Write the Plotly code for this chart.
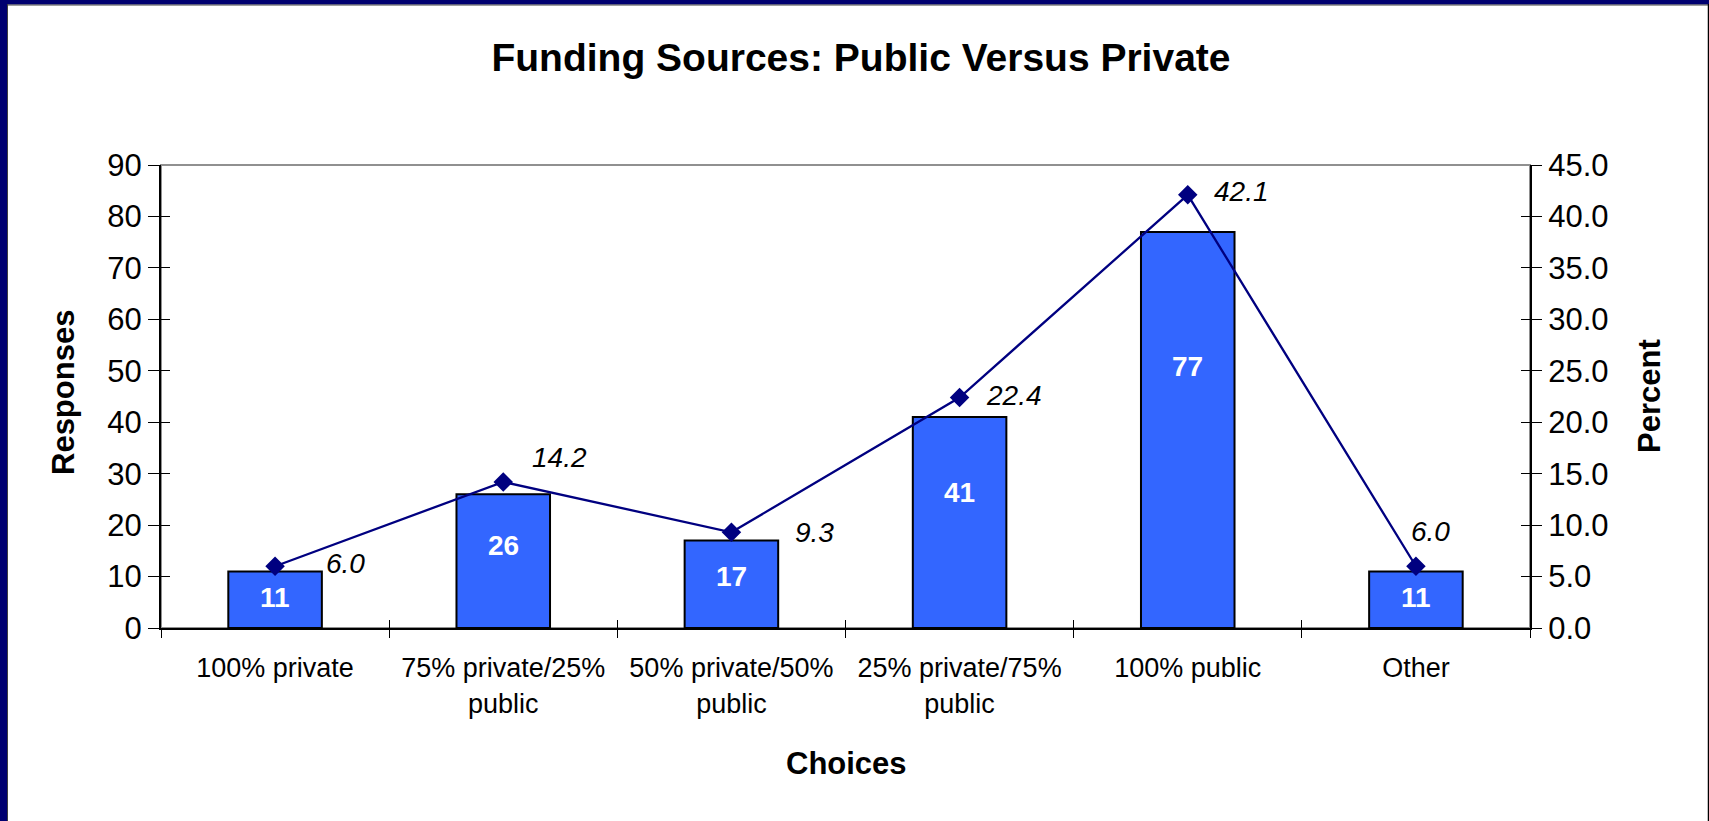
import plotly.graph_objects as go

# Survey data: funding preference choices
categories = [
    "100% private",
    "75% private/25%<br>public",
    "50% private/50%<br>public",
    "25% private/75%<br>public",
    "100% public",
    "Other",
]
responses = [11, 26, 17, 41, 77, 11]
percent = [6.0, 14.2, 9.3, 22.4, 42.1, 6.0]

# Label offsets (pixels) for the percent labels next to each marker
pct_xshift = [49, 27, 62, 24, 24, -7]
pct_yshift = [3, 24, 0, 2, 3, 35]

W, H = 1709, 821
ML, MR, MT, MB = 161, 179, 165, 193
PW, PH = W - ML - MR, H - MT - MB

FONT = "Liberation Sans, Arial, sans-serif"
BAR_COLOR = "#3366FF"
LINE_COLOR = "#000080"
FRAME_COLOR = "#000070"


def px_x(p):
    return (p - ML) / PW


def px_y(p):
    return (H - MB - p) / PH


fig = go.Figure()

fig.add_trace(go.Bar(
    x=categories, y=responses, name="Responses",
    marker=dict(color=BAR_COLOR, line=dict(color="black", width=2)),
    hoverinfo="x+y",
))

fig.add_trace(go.Scatter(
    x=categories, y=percent, yaxis="y2", name="Percent",
    mode="lines+markers",
    line=dict(color=LINE_COLOR, width=2.3),
    marker=dict(symbol="diamond", size=15, color=LINE_COLOR),
))

# Invisible traces carrying the inward half of the crossing tick marks
fig.add_trace(go.Scatter(
    x=categories, y=responses, xaxis="x2", yaxis="y3", mode="markers",
    marker=dict(opacity=0), hoverinfo="skip", showlegend=False,
))
fig.add_trace(go.Scatter(
    x=categories, y=percent, xaxis="x2", yaxis="y4", mode="markers",
    marker=dict(opacity=0), hoverinfo="skip", showlegend=False,
))

annotations = []
# Bar value labels (white, bold, inside the bars)
for c, v in zip(categories, responses):
    annotations.append(dict(
        x=c, y=0.68 * v - 1.6, xref="x", yref="y", text=str(v), showarrow=False,
        font=dict(family=FONT, size=28, color="white", weight="bold"),
        xanchor="center", yanchor="middle",
    ))
# Percent labels (italic, beside the markers)
for c, v, dx, dy in zip(categories, percent, pct_xshift, pct_yshift):
    annotations.append(dict(
        x=c, y=v, xref="x", yref="y2", text=f"{v:.1f}", showarrow=False,
        font=dict(family=FONT, size=28, color="black", style="italic"),
        xanchor="left", yanchor="middle", xshift=dx, yshift=dy,
    ))
# Axis titles
annotations += [
    dict(x=px_x(63), y=px_y(393), xref="paper", yref="paper", text="<b>Responses</b>",
         textangle=-90, showarrow=False, font=dict(family=FONT, size=31, color="black"),
         xanchor="center", yanchor="middle"),
    dict(x=px_x(1649), y=px_y(396), xref="paper", yref="paper", text="<b>Percent</b>",
         textangle=-90, showarrow=False, font=dict(family=FONT, size=31, color="black"),
         xanchor="center", yanchor="middle"),
    dict(x=px_x(846), y=px_y(763), xref="paper", yref="paper", text="<b>Choices</b>",
         showarrow=False, font=dict(family=FONT, size=31, color="black"),
         xanchor="center", yanchor="middle"),
]

shapes = [
    # plot-area border (top edge shows in grey)
    dict(type="rect", xref="paper", yref="paper", x0=0, x1=1, y0=0, y1=1,
         line=dict(color="#909090", width=2), layer="below"),
    # outer frame
    dict(type="rect", xref="paper", yref="paper", x0=px_x(0), x1=px_x(7),
         y0=px_y(H), y1=px_y(0), fillcolor=FRAME_COLOR, line=dict(width=0)),
    dict(type="rect", xref="paper", yref="paper", x0=px_x(0), x1=px_x(W),
         y0=px_y(4.5), y1=px_y(0), fillcolor=FRAME_COLOR, line=dict(width=0)),
    dict(type="line", xref="paper", yref="paper", x0=px_x(7.5), x1=px_x(7.5),
         y0=px_y(H), y1=px_y(4), line=dict(color="#404040", width=1)),
    dict(type="line", xref="paper", yref="paper", x0=px_x(7), x1=px_x(W),
         y0=px_y(5), y1=px_y(5), line=dict(color="#404040", width=1)),
    dict(type="line", xref="paper", yref="paper", x0=px_x(W - 0.5), x1=px_x(W - 0.5),
         y0=px_y(H), y1=px_y(4), line=dict(color="black", width=1.5)),
]

tick_font = dict(family=FONT, size=31, color="black")

fig.update_layout(
    width=W, height=H,
    margin=dict(l=ML, r=MR, t=MT, b=MB, autoexpand=False),
    paper_bgcolor="white", plot_bgcolor="white",
    showlegend=False,
    bargap=0.59,
    title=dict(
        text="<b>Funding Sources: Public Versus Private</b>",
        x=861 / W, xanchor="center", y=1 - 57 / H, yanchor="middle",
        font=dict(family=FONT, size=39, color="black"),
    ),
    xaxis=dict(
        type="category", range=[-0.5, 5.5], tickson="boundaries",
        ticks="outside", ticklen=8, tickwidth=1, tickcolor="black",
        showline=True, linecolor="black", linewidth=2, showgrid=False,
        tickfont=dict(family=FONT, size=27, color="black"),
        ticklabelstandoff=15,
    ),
    xaxis2=dict(
        type="category", overlaying="x", matches="x", tickson="boundaries",
        ticks="inside", ticklen=8, tickwidth=1, tickcolor="black",
        showticklabels=False, showline=False, showgrid=False,
    ),
    yaxis=dict(
        range=[0, 90], dtick=10, tick0=0, ticks="outside", ticklen=11,
        tickwidth=1, tickcolor="black", showline=True, linecolor="black",
        linewidth=2, showgrid=False, zeroline=False, tickfont=tick_font,
    ),
    yaxis2=dict(
        range=[0, 45], dtick=5, tick0=0, tickformat=".1f", overlaying="y",
        side="right", ticks="outside", ticklen=10, tickwidth=1, tickcolor="black",
        showline=True, linecolor="black", linewidth=2, showgrid=False,
        zeroline=False, tickfont=tick_font,
    ),
    yaxis3=dict(
        overlaying="y", matches="y", side="left", ticks="inside", ticklen=9,
        tickwidth=1, tickcolor="black", showticklabels=False, showline=False,
        showgrid=False, zeroline=False, dtick=10, tick0=0,
    ),
    yaxis4=dict(
        overlaying="y", matches="y2", side="right", ticks="inside", ticklen=9,
        tickwidth=1, tickcolor="black", showticklabels=False, showline=False,
        showgrid=False, zeroline=False, dtick=5, tick0=0,
    ),
    annotations=annotations,
    shapes=shapes,
)

fig.write_html("out.html")
